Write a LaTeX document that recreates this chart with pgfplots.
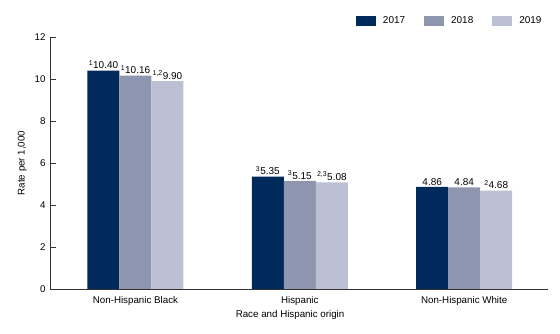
\documentclass[border=0pt]{standalone}
\usepackage{fontspec}
\setmainfont{Liberation Sans}
\usepackage{pgfplots}
\pgfplotsset{compat=1.18}
\definecolor{c17}{HTML}{002A5C}
\definecolor{c18}{HTML}{8E96AF}
\definecolor{c19}{HTML}{BBC0D4}
\definecolor{axc}{HTML}{333333}
\begin{document}
\begin{tikzpicture}
\path[use as bounding box] (-50bp,-45bp) rectangle (510bp,289bp);
\begin{axis}[
  at={(0,0)}, anchor=south west,
  scale only axis, width=498bp, height=252bp,
  xmin=-0.52, xmax=2.51, ymin=0, ymax=12,
  ybar=0pt, bar width=32bp,
  axis x line=bottom, axis y line=left,
  axis line style={axc, line width=0.9pt, -},
  xtick={0,1,2},
  xticklabels={Non-Hispanic Black,Hispanic,Non-Hispanic White},
  x tick style={draw=none},
  ytick={0,2,4,6,8,10,12},
  y tick style={axc, line width=0.9pt},
  major tick length=6bp, tick align=inside,
  tick label style={font=\fontsize{9.8}{11}\selectfont, text=black},
  /pgf/number format/assume math mode=true,
  yticklabel style={xshift=-1bp},
  xticklabel style={yshift=-4bp},
  xlabel={Race and Hispanic origin},
  ylabel={Rate per 1,000},
  label style={font=\fontsize{9.8}{11}\selectfont},
  xlabel style={at={(axis description cs:0.482,-0.105)}, anchor=center},
  ylabel style={at={(axis description cs:-0.056,0.5)}, anchor=center},
  nodes near coords, point meta=explicit symbolic,
  nodes near coords style={font=\fontsize{10}{11}\selectfont, text=black, inner sep=1.5bp},
  legend columns=3,
  legend style={draw=none, fill=none, at={(axis description cs:0.614,1.063)}, anchor=west,
    font=\fontsize{10}{11}\selectfont, inner sep=0pt,
    nodes={inner sep=0pt},
    /tikz/every odd column/.style={column sep=7bp},
    /tikz/every even column/.style={column sep=19bp}},
  legend image code/.code={\fill[#1] (0bp,-5bp) rectangle (20bp,5bp);},
]
\addplot[fill=c17, draw=none] coordinates {(0,10.40) [\textsuperscript{1}10.40] (1,5.35) [\textsuperscript{3}5.35] (2,4.86) [4.86]};
\addplot[fill=c18, draw=none] coordinates {(0,10.16) [\textsuperscript{1}10.16] (1,5.15) [\textsuperscript{3}5.15] (2,4.84) [4.84]};
\addplot[fill=c19, draw=none] coordinates {(0,9.90) [\textsuperscript{1,2}9.90] (1,5.08) [\textsuperscript{2,3}5.08] (2,4.68) [\textsuperscript{2}4.68]};
\legend{2017,2018,2019}
\end{axis}
\end{tikzpicture}
\end{document}
